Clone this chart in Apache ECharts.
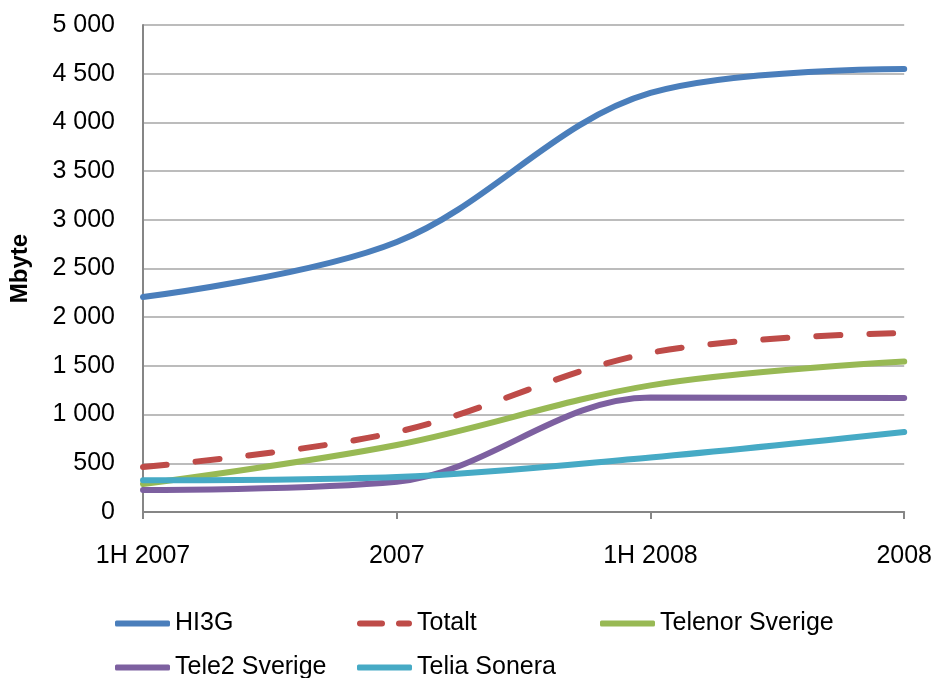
<!DOCTYPE html>
<html>
<head>
<meta charset="utf-8">
<script src="https://cdn.jsdelivr.net/npm/echarts@6/dist/echarts.min.js"></script>
<style>
  html, body { margin: 0; padding: 0; background: #fff; }
  #chart { width: 935px; height: 678px; }
</style>
</head>
<body>
<div id="chart"></div>
<script>
// data
let categories = ['1H 2007', '2007', '1H 2008', '2008']
let hi3g = [2207, 2772, 4302, 4548]
let totalt = [462, 821, 1635, 1838]
let telenor = [287, 688, 1300, 1545]
let tele2 = [226, 310, 1175, 1170]
let telia = [325, 359, 560, 821]
let yTicks = [0, 500, 1000, 1500, 2000, 2500, 3000, 3500, 4000, 4500, 5000]

let font = '"Liberation Sans", Arial, sans-serif'
let dashIcon = 'path://M3,0H25A3,3 0 0 1 25,6H3A3,3 0 0 1 3,0Z M42,0H52A3,3 0 0 1 52,6H42A3,3 0 0 1 42,0Z'

function lineSeries(name, data, color, dashed) {
    return {
        name: name,
        type: 'line',
        data: data,
        smooth: 0.35,
        symbol: 'none',
        lineStyle: {
            color: color,
            width: 6,
            type: dashed ? [24, 29] : 'solid',
            cap: 'round'
        },
        itemStyle: { color: color }
    }
}

function legendAt(name, left, top, icon) {
    return {
        data: [{ name: name, icon: icon || 'roundRect' }],
        left: left,
        top: top,
        itemWidth: 55,
        itemHeight: 6,
        selectedMode: false,
        textStyle: { fontFamily: font, fontSize: 25, color: '#000' }
    }
}

let myChart = echarts.init(document.getElementById('chart'))
let option = {
    animation: false,
    grid: { left: 143, right: 30, top: 25, bottom: 166 },
    legend: [
        legendAt('HI3G', 110, 606),
        legendAt('Totalt', 352, 606, dashIcon),
        legendAt('Telenor Sverige', 595, 606),
        legendAt('Tele2 Sverige', 110, 650),
        legendAt('Telia Sonera', 352, 650)
    ],
    xAxis: {
        type: 'category',
        data: categories,
        boundaryGap: false,
        axisLine: { lineStyle: { color: '#868686', width: 2 } },
        axisTick: { show: true, length: 7, lineStyle: { color: '#868686', width: 2 } },
        axisLabel: { fontFamily: font, fontSize: 25, color: '#000', margin: 32 },
        splitLine: { show: false }
    },
    yAxis: {
        type: 'value',
        min: yTicks[0],
        max: yTicks[yTicks.length - 1],
        interval: 500,
        name: 'Mbyte',
        nameLocation: 'middle',
        nameGap: 111,
        nameTextStyle: { fontFamily: font, fontSize: 24, fontWeight: 'bold', color: '#000' },
        axisLine: { show: true, lineStyle: { color: '#868686', width: 2 } },
        axisTick: { show: false },
        axisLabel: {
            fontFamily: font, fontSize: 25, color: '#000', margin: 28,
            formatter: v => String(v).replace(/\B(?=(\d{3})+(?!\d))/g, ' ')
        },
        splitLine: { lineStyle: { color: '#a6a6a6', width: 1.5 } }
    },
    series: [
        lineSeries('HI3G', hi3g, '#4a7ebb'),
        lineSeries('Totalt', totalt, '#be4b48', true),
        lineSeries('Telenor Sverige', telenor, '#98b954'),
        lineSeries('Tele2 Sverige', tele2, '#7d60a0'),
        lineSeries('Telia Sonera', telia, '#46aac5')
    ]
}
myChart.setOption(option)
</script>
</body>
</html>
